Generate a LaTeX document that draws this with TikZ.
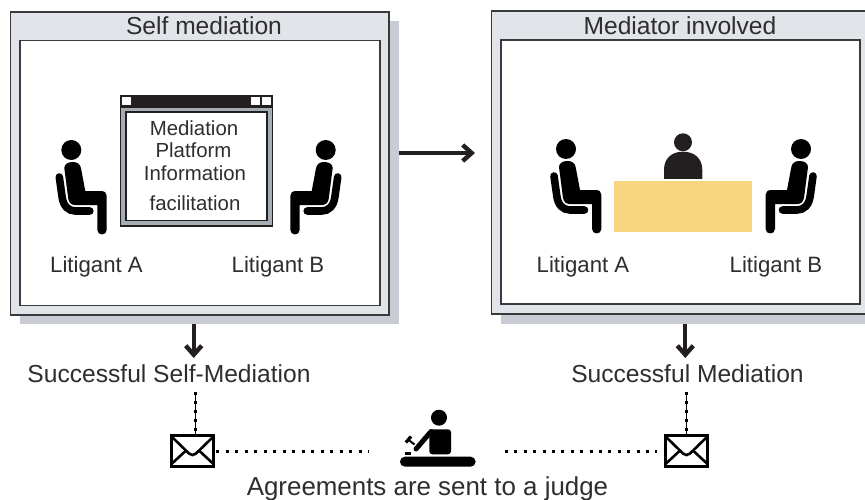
\documentclass[tikz,border=0pt]{standalone}
\usepackage{fontspec}
\setmainfont{Liberation Sans}
\usetikzlibrary{arrows.meta}
\definecolor{frameface}{HTML}{E1E4E9}
\definecolor{shadowc}{HTML}{C9CCD4}
\definecolor{linec}{HTML}{3A3A3C}
\definecolor{winc}{HTML}{A5ADB5}
\definecolor{inkc}{HTML}{231F20}
\definecolor{textc}{HTML}{2F2D2E}
\definecolor{tablec}{HTML}{F9D582}
\tikzset{
  x=1pt,y=-1pt,
  boxbase/.style={rectangle,inner sep=0pt,outer sep=0pt,anchor=center},
  shadowbox/.style={boxbase,fill=shadowc},
  outerbox/.style={boxbase,fill=frameface,draw=linec,line width=1.3pt},
  innerbox/.style={boxbase,fill=white,draw=linec,line width=1.3pt},
  titletext/.style={inner sep=0pt,anchor=base,text=textc,font=\fontsize{24.6}{26}\selectfont},
  lawtext/.style={inner sep=0pt,anchor=base,text=textc,font=\fontsize{22.2}{24}\selectfont},
  wintext/.style={inner sep=0pt,anchor=base,text=textc,font=\fontsize{20.4}{22}\selectfont},
  outtext/.style={inner sep=0pt,anchor=base,text=textc,font=\fontsize{24.6}{26}\selectfont},
  flowarrow/.style={draw=inkc,line width=4pt,-{Straight Barb[length=9pt,width=16pt,line width=4.4pt]}},
  dotrule/.style={draw=black,line width=3pt,dash pattern=on 3pt off 6.4pt},
  envelope/.style={boxbase,draw=black,line width=3pt,fill=white,minimum width=42pt,minimum height=30.8pt},
  sitter/.pic={
    \fill[black] (0,0) circle (10);
    \fill[black] (-7,18) .. controls (-7,14) and (-3,12) .. (1.5,12)
      .. controls (6,12) and (9,14) .. (9.7,18.3) -- (14,41) -- (29.7,41)
      .. controls (33.5,41) and (35.4,43) .. (35.4,46) -- (35.4,79.8)
      .. controls (35.4,86) and (26,86) .. (26,79.8) -- (26,55) -- (3.7,55)
      .. controls (0,55) and (-2,53) .. (-3,49) -- cycle;
    \draw[black,line width=7.6pt,line cap=round] (-12,27) -- (-9.2,47)
      .. controls (-8,56) and (-3,61) .. (4,61) -- (18.5,61);
  },
  mail/.pic={
    \draw[black,line width=2.6pt,line join=round] (-21.5,-15) -- (-3.5,2.5)
      .. controls (-1.2,4.6) and (1.2,4.6) .. (3.5,2.5) -- (21.5,-15);
    \draw[black,line width=2.6pt] (-21,13) -- (-7,0);
    \draw[black,line width=2.6pt] (21,13) -- (7,0);
  }
}
\begin{document}
\begin{tikzpicture}
\clip (0,0) rectangle (865,500);
\fill[white] (0,0) rectangle (865,500);

% left panel
\node[shadowbox,minimum width=379pt,minimum height=303pt] (selfshadow) at (209.5,172.5) {};
\node[outerbox,minimum width=378.5pt,minimum height=303pt] (selfouter) at (199.75,163.5) {};
\node[innerbox,minimum width=360pt,minimum height=264.5pt] (selfinner) at (200,173) {};
\node[titletext] (selftitle) at (204,35) {Self mediation};

% right panel
\node[shadowbox,minimum width=380pt,minimum height=304pt] (medshadow) at (691,172) {};
\node[outerbox,minimum width=390pt,minimum height=303pt] (medouter) at (686.5,162.5) {};
\node[innerbox,minimum width=359pt,minimum height=264pt] (medinner) at (680.5,172) {};
\node[titletext] (medtitle) at (680,34.5) {Mediator involved};

% window
\node[boxbase,fill=winc,draw=inkc,line width=1.4pt,minimum width=152pt,minimum height=119pt] (winbody) at (196.3,166.5) {};
\node[boxbase,fill=inkc,minimum width=153pt,minimum height=12pt] (winbar) at (196.3,101) {};
\node[boxbase,fill=white,minimum width=9pt,minimum height=8pt] (winbtna) at (126.5,101) {};
\node[boxbase,fill=white,minimum width=9pt,minimum height=8pt] (winbtnb) at (255.5,101) {};
\node[boxbase,fill=white,minimum width=9pt,minimum height=8pt] (winbtnc) at (266.5,101) {};
\node[boxbase,fill=white,draw=inkc,line width=1.4pt,minimum width=141pt,minimum height=108.5pt] (winface) at (196.5,166.3) {};
\node[wintext] (wta) at (194,135.5) {Mediation};
\node[wintext] (wtb) at (193.5,158) {Platform};
\node[wintext] (wtc) at (195,181) {Information};
\node[wintext] (wtd) at (195,211) {facilitation};

% people
\pic at (71.3,150) {sitter};
\pic[xscale=-1] at (325.7,150) {sitter};
\pic at (566,149) {sitter};
\pic[xscale=-1] at (801,149) {sitter};

% mediator and table
\fill[inkc] (683,142.3) circle (9);
\fill[inkc] (664,179) -- (664,170) .. controls (664,158) and (672,151.7) .. (683,151.7)
  .. controls (694,151.7) and (702.3,158) .. (702.3,170) -- (702.3,179) -- cycle;
\node[boxbase,fill=tablec,minimum width=138pt,minimum height=50.7pt] (table) at (683,206.3) {};

% labels
\node[lawtext] (la) at (96.5,272.5) {Litigant A};
\node[lawtext] (lb) at (278,272.5) {Litigant B};
\node[lawtext] (lc) at (583,272.5) {Litigant A};
\node[lawtext] (ld) at (776,272.5) {Litigant B};

% flow arrows
\coordinate (hstart) at (399,153);
\coordinate (hend) at (475,153);
\draw[flowarrow] (hstart) -- (hend);
\coordinate (dla) at (193.7,324);
\coordinate (dlb) at (193.7,358);
\draw[flowarrow] (dla) -- (dlb);
\coordinate (dra) at (685.3,324);
\coordinate (drb) at (685.3,358);
\draw[flowarrow] (dra) -- (drb);

% outcome labels
\node[outtext] (oka) at (169,382) {Successful Self-Mediation};
\node[outtext] (okb) at (687.5,382) {Successful Mediation};

% envelopes
\node[envelope] (envl) at (192.5,451) {};
\pic at (192.5,451) {mail};
\node[envelope] (envr) at (686.5,451) {};
\pic at (686.5,451) {mail};

% vertical dotted links
\coordinate (vla) at (195,392);
\coordinate (vra) at (686,392);
\draw[black,line width=.9pt] (vla) -- (vla |- envl.north);
\draw[black,line width=3pt,dash pattern=on 3pt off 6pt] (vla) -- (vla |- envl.north);
\draw[black,line width=.9pt] (vra) -- (vra |- envr.north);
\draw[black,line width=3pt,dash pattern=on 3pt off 6pt] (vra) -- (vra |- envr.north);

% judge
\fill[black] (439,417.7) circle (8);
\fill[black,rounded corners=3pt] (429.3,454.3) -- (429.3,429.3) -- (451,429.3) -- (451,454.3) -- cycle;
\draw[black,line width=5pt,line cap=round] (431,431.5) -- (416,449);
\draw[black,line width=2pt] (414.5,444.5) -- (408,439.5);
\draw[black,line width=3.2pt] (405.8,442.5) -- (411,436.5);
\fill[black] (405,451.7) rectangle (411,454.5);
\node[boxbase,fill=black,rounded corners=5pt,minimum width=75.7pt,minimum height=10pt] (desk) at (437.8,461.7) {};
\node[outtext,font=\fontsize{25.9}{27}\selectfont] (judgecap) at (427.5,495) {Agreements are sent to a judge};

% horizontal dotted links
\coordinate (jl) at (369,451);
\coordinate (jr) at (505,451);
\coordinate (el) at (216,451);
\coordinate (er) at (657,451);
\draw[dotrule,dash pattern=on 3pt off 6.5pt] (el) -- (jl);
\draw[dotrule] (jr) -- (er);
\end{tikzpicture}
\end{document}
